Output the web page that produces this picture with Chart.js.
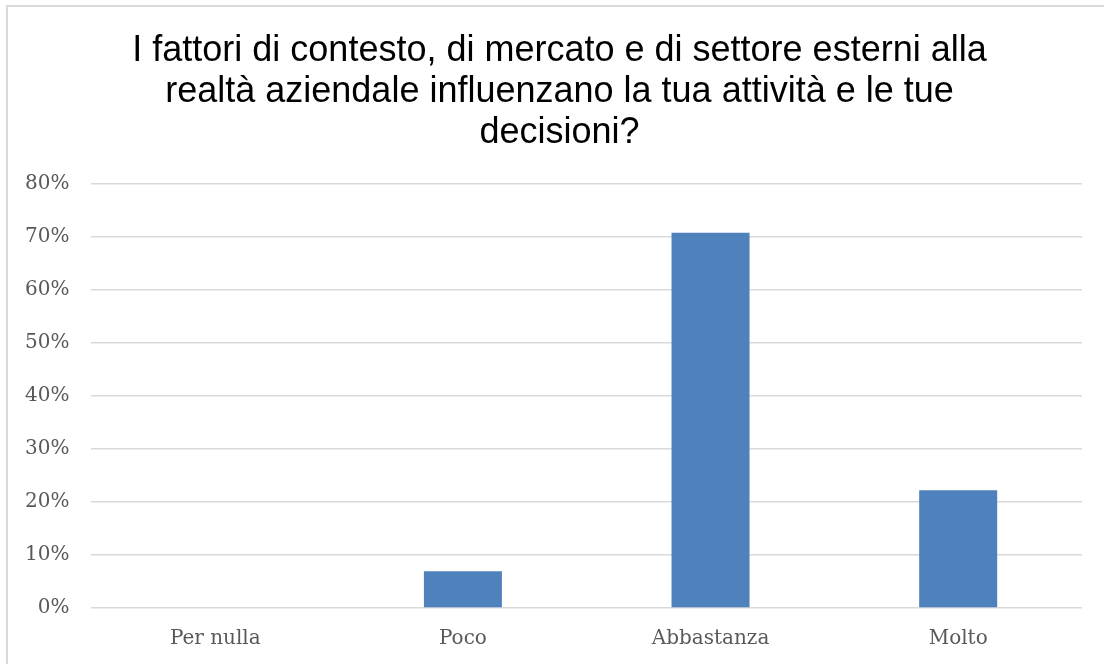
<!DOCTYPE html>
<html>
<head>
<meta charset="utf-8">
<script src="https://cdn.jsdelivr.net/npm/chart.js@4/dist/chart.umd.min.js"></script>
<style>
  body { margin: 0; background: #fff; overflow: hidden; }
  #frame { position: absolute; left: 6px; top: 5px; width: 1200px; height: 800px; border: 2px solid #d9d9d9; }
  #wrap { position: absolute; left: 0; top: 0; width: 1104px; height: 664px; }
</style>
</head>
<body>
<div id="frame"></div>
<div id="wrap"><canvas id="myChart" width="1104" height="664"></canvas></div>
<script>
// risposte (quota sul totale)
var categorie = ['Per nulla', 'Poco', 'Abbastanza', 'Molto'];
var valori = [0, 0.0694, 0.7083, 0.2222];
var titolo = [
    'I fattori di contesto, di mercato e di settore esterni alla',
    'realtà aziendale influenzano la tua attività e le tue',
    'decisioni?'
];

// il titolo nell'originale e' centrato sulla pagina, non sull'area del grafico
var spostaTitolo = {
    id: 'spostaTitolo',
    afterLayout: function (chart) {
        if (chart.titleBlock) {
            chart.titleBlock.left += 17;
            chart.titleBlock.right += 17;
        }
    }
};

var ctx = document.getElementById('myChart').getContext('2d');
var myChart = new Chart(ctx, {
    type: 'bar',
    data: {
        labels: categorie,
        datasets: [{
            data: valori,
            backgroundColor: '#4f81bd',
            borderWidth: 0,
            categoryPercentage: 1,
            barPercentage: 0.315
        }]
    },
    plugins: [spostaTitolo],
    options: {
        responsive: false,
        animation: false,
        layout: { padding: { left: 3, right: 22, top: 30, bottom: 11 } },
        plugins: {
            legend: { display: false },
            tooltip: { enabled: false },
            title: {
                display: true,
                text: titolo,
                color: '#000',
                font: { family: 'Liberation Sans', size: 36, weight: 'normal', lineHeight: 1.15 },
                padding: { top: 0, bottom: 30 }
            }
        },
        scales: {
            x: {
                grid: { display: false, drawTicks: true, tickLength: 17 },
                border: { display: false },
                ticks: { color: '#595959', font: { family: 'DejaVu Serif', size: 20 }, padding: 2 }
            },
            y: {
                min: 0,
                max: 0.8,
                ticks: {
                    stepSize: 0.1,
                    color: '#595959',
                    font: { family: 'DejaVu Serif', size: 20 },
                    padding: 22,
                    callback: function (v) { return Math.round(v * 100) + '%'; }
                },
                grid: { color: '#d9d9d9', lineWidth: 1.5, drawTicks: false },
                border: { display: false }
            }
        }
    }
});
</script>
</body>
</html>
